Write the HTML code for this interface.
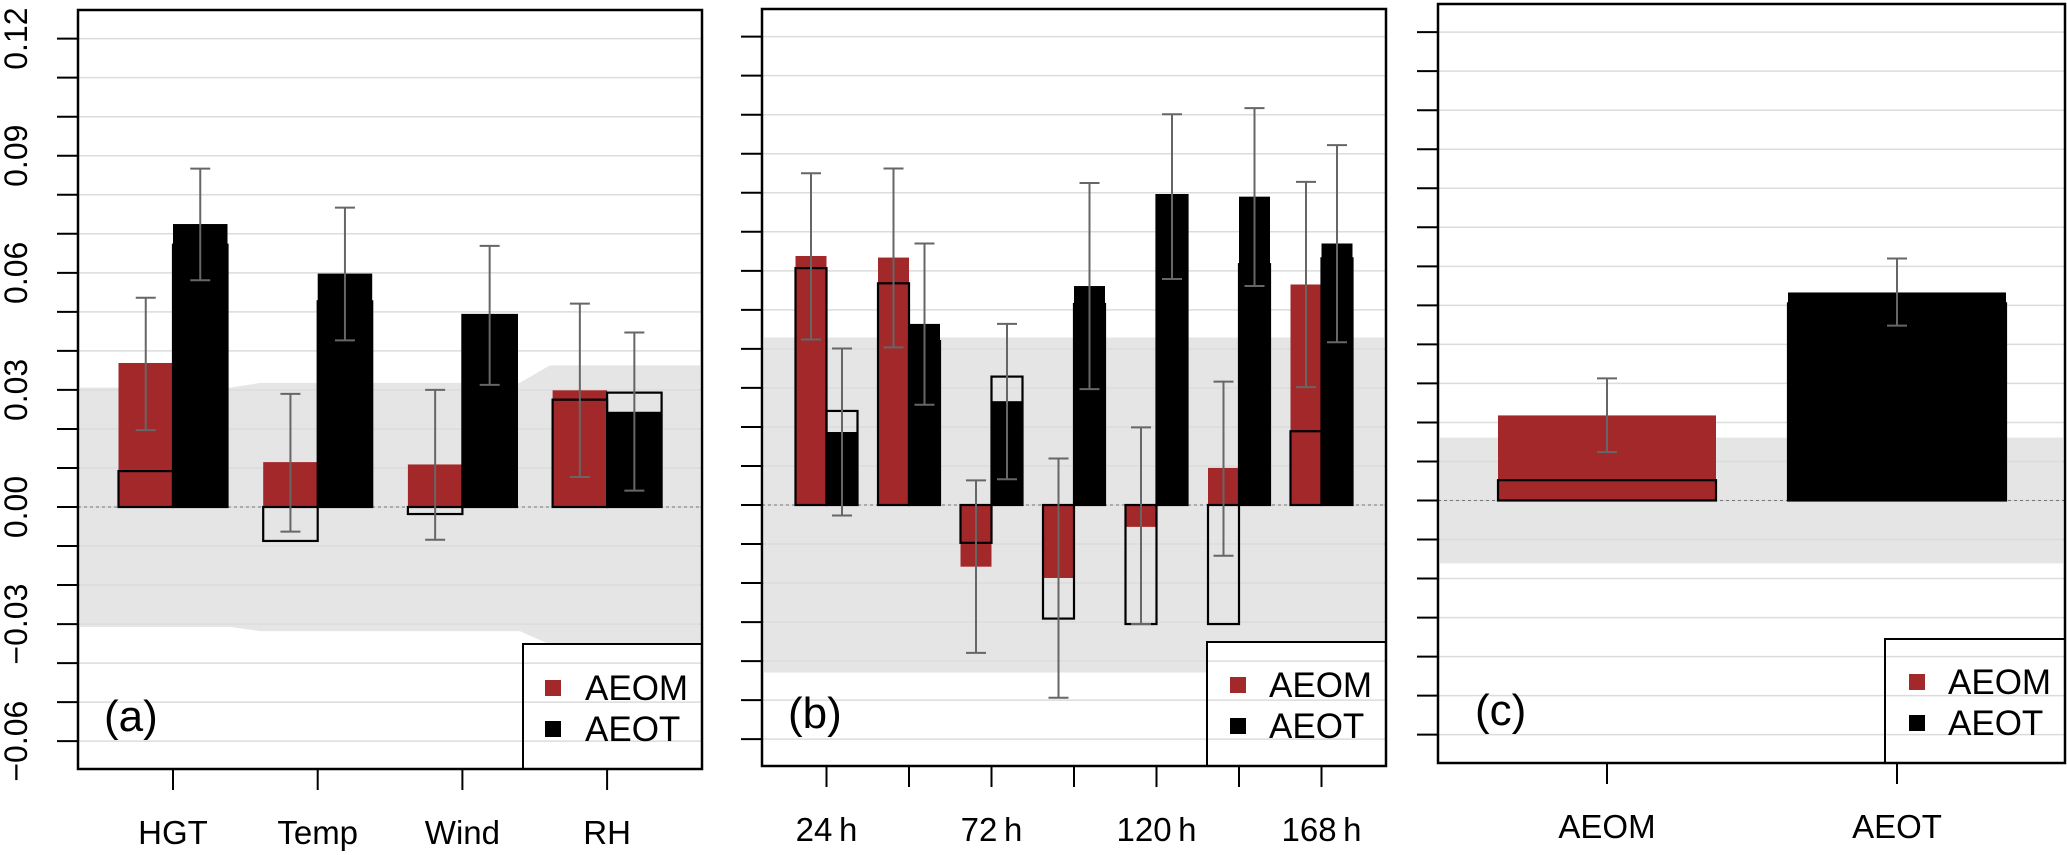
<!DOCTYPE html>
<html><head><meta charset="utf-8">
<style>
html,body{margin:0;padding:0;background:#fff;}
svg{display:block;font-family:"Liberation Sans",Arial,sans-serif;}
</style></head>
<body>
<svg id="chart" width="2067" height="855" viewBox="0 0 2067 855" xmlns="http://www.w3.org/2000/svg"></svg>
<script>
// ---------- data ----------
const yTickLabels = ["0.12","0.09","0.06","0.03","0.00","\u22120.03","\u22120.06"];
const yTickValues = [0.12,0.09,0.06,0.03,0.00,-0.03,-0.06];

// Panel a
const catsA = ["HGT","Temp","Wind","RH"];
const aeomA = [0.0369, 0.0115, 0.0109, 0.0299];
const aeomClimA = [0.0092, -0.0087, -0.0018, 0.0275];
const aeomLoA = [0.0197, -0.0063, -0.0084, 0.0077];
const aeomHiA = [0.0536, 0.0290, 0.0300, 0.0521];
const aeotA = [0.0725, 0.0598, 0.0492, 0.0244];
const aeotClimA = [0.0672, 0.0527, 0.0492, 0.0293];
const aeotLoA = [0.0581, 0.0427, 0.0313, 0.0042];
const aeotHiA = [0.0867, 0.0767, 0.0669, 0.0447];
const bandHiA = [0.0306, 0.0318, 0.0318, 0.0363];
const bandLoA = [-0.0307, -0.0318, -0.0318, -0.0352];

// Panel b
const catsB = ["24\u2009h","","72\u2009h","","120\u2009h","","168\u2009h"];
const aeomB = [0.0638, 0.0634, -0.0158, -0.0187, -0.0056, 0.0095, 0.0565];
const aeomClimB = [0.0607, 0.0568, -0.0097, -0.0291, -0.0305, -0.0305, 0.0189];
const aeomLoB = [0.0424, 0.0404, -0.0379, -0.0494, -0.0305, -0.0130, 0.0302];
const aeomHiB = [0.0850, 0.0862, 0.0063, 0.0119, 0.0199, 0.0316, 0.0828];
const aeotB = [0.0187, 0.0464, 0.0266, 0.0561, 0.0794, 0.0790, 0.0670];
const aeotClimB = [0.0241, 0.0420, 0.0329, 0.0515, 0.0794, 0.0617, 0.0632];
const aeotLoB = [-0.0027, 0.0257, 0.0066, 0.0297, 0.0579, 0.0561, 0.0417];
const aeotHiB = [0.0401, 0.0670, 0.0464, 0.0825, 0.1001, 0.1017, 0.0922];
const bandHiB = [0.0429];
const bandLoB = [-0.0429];

// Panel c
const catsC = ["AEOM","AEOT"];
const valC = [0.0218, 0.0533];
const climC = [0.0052, 0.0505];
const loC = [0.0124, 0.0448];
const hiC = [0.0313, 0.0620];
const bandHiC = [0.0161];
const bandLoC = [-0.0161];

// ---------- drawing ----------
const NS = "http://www.w3.org/2000/svg";
const svg = document.getElementById("chart");
const RED = "#a3282a";
function mk(tag, attrs, parent) {
  const e = document.createElementNS(NS, tag);
  for (const k in attrs) e.setAttribute(k, attrs[k]);
  (parent || svg).appendChild(e);
  return e;
}

function panel(cfg) {
  const g = mk("g", {});
  
  
  const y = v => cfg.zeroY - v * 3903;
  const L = cfg.left, R = cfg.right, T = cfg.top, B = cfg.bottom;

  let pts = [];
  const n = cfg.bandHi.length;
  if (n === 1) {
    pts = [[L + 2, y(cfg.bandHi[0])], [R - 2, y(cfg.bandHi[0])], [R - 2, y(cfg.bandLo[0])], [L + 2, y(cfg.bandLo[0])]];
  } else {
    const up = [], lo = [];
    for (let i = 0; i < n; i++) {
      const c = cfg.xc(i);
      const x0 = i === 0 ? L + 2 : c - cfg.pitch / 2 + 15;
      const x1 = i === n - 1 ? R - 2 : c + cfg.pitch / 2 - 15;
      up.push([x0, y(cfg.bandHi[i])], [x1, y(cfg.bandHi[i])]);
      lo.push([x0, y(cfg.bandLo[i])], [x1, y(cfg.bandLo[i])]);
    }
    pts = up.concat(lo.reverse());
  }
  const band = mk("polygon", {points: pts.map(p => p.join(",")).join(" "), fill: "#e5e5e5"}, g);
  
  

  const lg = cfg.legend;
  mk("rect", {x: lg.x, y: lg.y, width: R - lg.x, height: B - lg.y, fill: "#fff"}, g);

  for (let k = -6; k <= 12; k++) {
    const v = k / 100, yy = y(v);
    const gl = mk("line", {x1: L, x2: R, y1: yy, y2: yy, stroke: "#dcdcdc", "stroke-width": 1.5}, g);
    
    
    const tk = mk("line", {x1: L - 21, x2: L, y1: yy, y2: yy, stroke: "#000", "stroke-width": 2}, g);
    
    
  }
  if (cfg.labels) {
    yTickValues.forEach((v, i) => {
      const t = mk("text", {x: 0, y: 0, "font-size": 32, "text-anchor": "middle",
        transform: `translate(27,${y(v)}) rotate(-90)`}, g);
      t.textContent = yTickLabels[i];
      
      
    });
  }
  mk("line", {x1: L, x2: R, y1: y(0), y2: y(0), stroke: "#777", "stroke-width": 1, "stroke-dasharray": "3,3"}, g);

  cfg.series.forEach((s, si) => {
    s.vals.forEach((v, i) => {
      const c = cfg.xc(i);
      const x0 = c + s.off - cfg.bw / 2;
      const col = s.colors ? s.colors[i] : s.color;
      const b = mk("rect", {x: x0, y: Math.min(y(v), y(0)), width: cfg.bw, height: Math.abs(y(v) - y(0)), fill: col}, g);
      
      
      const cv = s.clim[i];
      const o = mk("rect", {x: x0, y: Math.min(y(cv), y(0)), width: cfg.bw, height: Math.abs(y(cv) - y(0)), fill: "none", stroke: "#000", "stroke-width": 2.2}, g);
      
      
    });
  });
  cfg.series.forEach(s => {
    s.vals.forEach((v, i) => {
      const c = cfg.xc(i) + s.off;
      const eg = mk("g", {stroke: "#666", "stroke-width": 2}, g);
      
      
      mk("line", {x1: c, x2: c, y1: y(s.lo[i]), y2: y(s.hi[i])}, eg);
      mk("line", {x1: c - 10, x2: c + 10, y1: y(s.lo[i]), y2: y(s.lo[i])}, eg);
      mk("line", {x1: c - 10, x2: c + 10, y1: y(s.hi[i]), y2: y(s.hi[i])}, eg);
    });
  });

  cfg.cats.forEach((c, i) => {
    const tx = cfg.tickX(i);
    const tk = mk("line", {x1: tx, x2: tx, y1: B, y2: B + 21, stroke: "#000", "stroke-width": 2}, g);
    
    
    if (c) {
      const t = mk("text", {x: tx, y: B + 75, "font-size": 33, "text-anchor": "middle"}, g);
      t.textContent = c;
      
      
    }
  });

  const f = mk("rect", {x: L, y: T, width: R - L, height: B - T, fill: "none", stroke: "#000", "stroke-width": 2.5}, g);
  
  

  const lgg = mk("g", {}, g);
  
  
  mk("rect", {x: lg.x, y: lg.y, width: R - lg.x, height: B - lg.y, fill: "none", stroke: "#000", "stroke-width": 2}, lgg);
  [["AEOM", RED], ["AEOT", "#000"]].forEach((e, i) => {
    const by = lg.base + i * 41;
    const sq = mk("rect", {x: lg.sx, y: by - 20, width: 16, height: 16, fill: e[1]}, lgg);
    
    
    const t = mk("text", {x: lg.tx, y: by, "font-size": 35}, lgg);
    t.textContent = e[0];
    
    
  });
  const pl = mk("text", {x: cfg.plX, y: B - 38, "font-size": 44}, g);
  pl.textContent = "(" + cfg.id + ")";
  
  
}

panel({id: "a", left: 78, right: 702, top: 10, bottom: 769, zeroY: 507, labels: true,
  cats: catsA, pitch: 144.7, bw: 54.5,
  xc: i => 173 + i * 144.7, tickX: i => 173 + i * 144.7,
  bandHi: bandHiA, bandLo: bandLoA,
  series: [
    {name: "aeom", vals: aeomA, clim: aeomClimA, lo: aeomLoA, hi: aeomHiA, color: RED, off: -27.25},
    {name: "aeot", vals: aeotA, clim: aeotClimA, lo: aeotLoA, hi: aeotHiA, color: "#000", off: 27.25}],
  legend: {x: 523, y: 644, sx: 545, tx: 585, base: 700}, plX: 104});

panel({id: "b", left: 762, right: 1386, top: 9, bottom: 766, zeroY: 505, labels: false,
  cats: catsB, pitch: 82.5, bw: 31,
  xc: i => 826.5 + i * 82.5, tickX: i => 826.5 + i * 82.5,
  bandHi: bandHiB, bandLo: bandLoB,
  series: [
    {name: "aeom", vals: aeomB, clim: aeomClimB, lo: aeomLoB, hi: aeomHiB, color: RED, off: -15.5},
    {name: "aeot", vals: aeotB, clim: aeotClimB, lo: aeotLoB, hi: aeotHiB, color: "#000", off: 15.5}],
  legend: {x: 1207, y: 642, sx: 1230, tx: 1269, base: 697}, plX: 788});

panel({id: "c", left: 1438, right: 2065, top: 4, bottom: 763, zeroY: 500.5, labels: false,
  cats: catsC, pitch: 290, bw: 218,
  xc: i => 1607 + i * 290, tickX: i => 1607 + i * 290,
  bandHi: bandHiC, bandLo: bandLoC,
  series: [
    {name: "impact", vals: valC, clim: climC, lo: loC, hi: hiC, color: RED, colors: [RED, "#000"], off: 0}],
  legend: {x: 1885, y: 639, sx: 1909, tx: 1948, base: 694}, plX: 1475});
</script>
</body></html>
